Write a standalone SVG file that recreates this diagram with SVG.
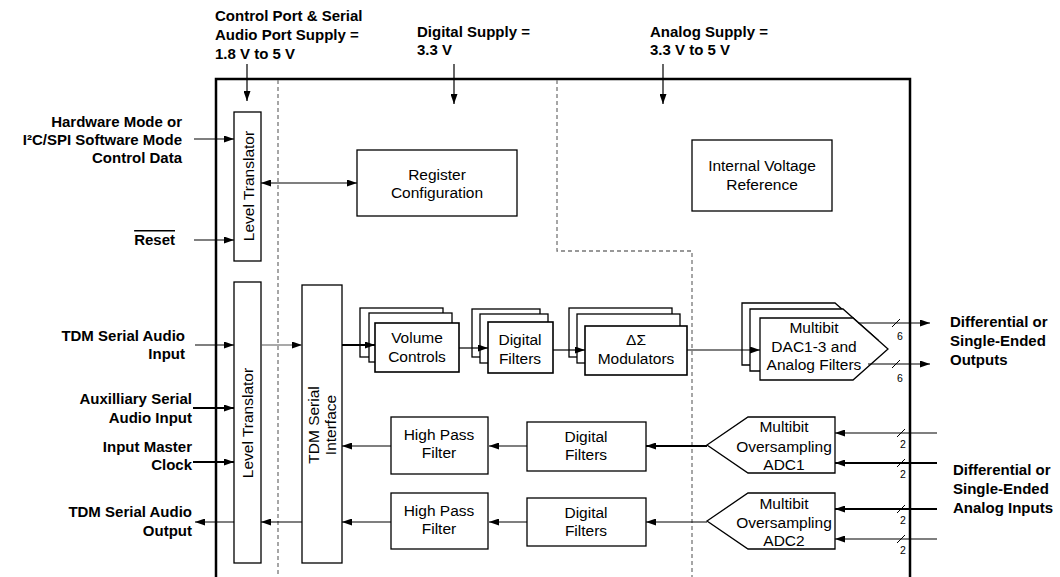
<svg xmlns="http://www.w3.org/2000/svg" width="1060" height="577" viewBox="0 0 1060 577">
<defs>
<marker id="ah" viewBox="0 0 10 7" refX="10" refY="3.5" markerUnits="userSpaceOnUse" markerWidth="10" markerHeight="7" orient="auto-start-reverse"><path d="M0,0 L10,3.5 L0,7 z" fill="#000"/></marker>
<path id="dac" d="M760,318 H853 L888,349 L853,380 H760 Z"/>
</defs>
<style>
text{font-family:"Liberation Sans",Arial,Helvetica,sans-serif;fill:#000}
.b{font-weight:bold;font-size:15px}
.n{font-size:15.5px}
.s{font-size:10.5px}
.m{text-anchor:middle}
.e{text-anchor:end}
.box{fill:#fff;stroke:#000;stroke-width:1.3}
.fr{fill:#fff;stroke:#000;stroke-width:1.6}
.c{fill:none;stroke:#000;stroke-width:1.2;marker-end:url(#ah)}
.t{stroke-width:2.2}
.g{stroke:#555}
.dash{fill:none;stroke:#777;stroke-width:1.3;stroke-dasharray:4 3}
.sl{stroke:#000;stroke-width:1}
</style>
<rect width="1060" height="577" fill="#fff"/>
<g id="frame">
<path d="M216,577 V79 H910 V577" fill="none" stroke="#000" stroke-width="2.5"/>
<path class="dash" d="M278,80 V577"/>
<path class="dash" d="M557,80 V251 H692 V577"/>
</g>
<g id="labels">
<text class="b" x="215" y="21">Control Port &amp; Serial</text>
<text class="b" x="215" y="40">Audio Port Supply =</text>
<text class="b" x="215" y="59">1.8 V to 5 V</text>
<text class="b" x="417" y="37">Digital Supply =</text>
<text class="b" x="417" y="55">3.3 V</text>
<text class="b" x="650" y="37">Analog Supply =</text>
<text class="b" x="650" y="55">3.3 V to 5 V</text>
<text class="b e" x="182" y="127">Hardware Mode or</text>
<text class="b e" x="182" y="145">I²C/SPI Software Mode</text>
<text class="b e" x="182" y="163">Control Data</text>
<text class="b e" x="175" y="245" style="text-decoration:overline">Reset</text>
<text class="b e" x="185" y="341">TDM Serial Audio</text>
<text class="b e" x="185" y="359">Input</text>
<text class="b e" x="192" y="404">Auxilliary Serial</text>
<text class="b e" x="192" y="423">Audio Input</text>
<text class="b e" x="192" y="452">Input Master</text>
<text class="b e" x="192" y="470">Clock</text>
<text class="b e" x="192" y="517">TDM Serial Audio</text>
<text class="b e" x="192" y="536">Output</text>
<text class="b" x="950" y="327">Differential or</text>
<text class="b" x="950" y="346">Single-Ended</text>
<text class="b" x="950" y="365">Outputs</text>
<text class="b" x="953" y="475">Differential or</text>
<text class="b" x="953" y="494">Single-Ended</text>
<text class="b" x="953" y="513">Analog Inputs</text>
</g>
<g id="lt-top">
<rect class="box" x="234" y="112" width="27" height="149"/>
<text class="n m" transform="translate(254,186) rotate(-90)">Level Translator</text>
</g>
<g id="lt-bottom">
<rect class="box" x="234" y="282" width="27" height="281"/>
<text class="n m" transform="translate(253,423) rotate(-90)">Level Translator</text>
</g>
<g id="tdm">
<rect class="box" x="302" y="285" width="40" height="278"/>
<text class="n m" transform="translate(319,425) rotate(-90)">TDM Serial</text>
<text class="n m" transform="translate(336,425) rotate(-90)">Interface</text>
</g>
<g id="register">
<rect class="box" x="357" y="150" width="160" height="66"/>
<text class="n m" x="437" y="180">Register</text>
<text class="n m" x="437" y="198">Configuration</text>
</g>
<g id="vref">
<rect class="box" x="692" y="140" width="140" height="71"/>
<text class="n m" x="762" y="171">Internal Voltage</text>
<text class="n m" x="762" y="190">Reference</text>
</g>
<g id="volume">
<rect class="box" x="360" y="308" width="83" height="49"/>
<rect class="box" x="369" y="313" width="83" height="49"/>
<rect class="fr" x="375" y="323" width="84" height="49"/>
<text class="n m" x="417" y="343">Volume</text>
<text class="n m" x="417" y="362">Controls</text>
</g>
<g id="dfilt-dac">
<rect class="box" x="472" y="309" width="68" height="48"/>
<rect class="box" x="480" y="314" width="68" height="49"/>
<rect class="fr" x="488" y="322" width="65" height="51"/>
<text class="n m" x="520" y="345">Digital</text>
<text class="n m" x="520" y="364">Filters</text>
</g>
<g id="modulators">
<rect class="box" x="569" y="308" width="103" height="49"/>
<rect class="box" x="577" y="314" width="103" height="49"/>
<rect class="fr" x="585" y="326" width="102" height="49"/>
<text class="n m" x="636" y="345">ΔΣ</text>
<text class="n m" x="636" y="364">Modulators</text>
</g>
<g id="dac-block">
<use href="#dac" class="box" transform="translate(-18,-15)"/>
<use href="#dac" class="box" transform="translate(-10,-9)"/>
<use href="#dac" class="box"/>
<text class="n m" x="814" y="333">Multibit</text>
<text class="n m" x="814" y="352">DAC1-3 and</text>
<text class="n m" x="814" y="370">Analog Filters</text>
</g>
<g id="adc1">
<path class="box" d="M707,445 L748,417 H835 V473 H748 Z"/>
<text class="n m" x="784" y="432">Multibit</text>
<text class="n m" x="784" y="452">Oversampling</text>
<text class="n m" x="784" y="470">ADC1</text>
</g>
<g id="adc2">
<path class="box" d="M707,521 L748,493 H835 V549 H748 Z"/>
<text class="n m" x="784" y="509">Multibit</text>
<text class="n m" x="784" y="528">Oversampling</text>
<text class="n m" x="784" y="546">ADC2</text>
</g>
<g id="dfilt-1">
<rect class="box" x="527" y="422" width="119" height="49"/>
<text class="n m" x="586" y="442">Digital</text>
<text class="n m" x="586" y="460">Filters</text>
</g>
<g id="dfilt-2">
<rect class="box" x="527" y="498" width="119" height="48"/>
<text class="n m" x="586" y="518">Digital</text>
<text class="n m" x="586" y="536">Filters</text>
</g>
<g id="hpf-1">
<rect class="box" x="391" y="417" width="97" height="57"/>
<text class="n m" x="439" y="440">High Pass</text>
<text class="n m" x="439" y="458">Filter</text>
</g>
<g id="hpf-2">
<rect class="box" x="391" y="493" width="97" height="56"/>
<text class="n m" x="439" y="516">High Pass</text>
<text class="n m" x="439" y="534">Filter</text>
</g>
<g id="connectors">
<path class="c" d="M247,64 V101"/>
<path class="c" d="M454,64 V104"/>
<path class="c" d="M663,64 V104"/>
<path class="c" d="M194,139 H234"/>
<path class="c" d="M194,240 H234"/>
<path class="c" d="M261,183 H357" marker-start="url(#ah)"/>
<path class="c" d="M195,345 H234"/>
<path class="c t" d="M193,408 H234"/>
<path class="c t" d="M193,462 H234"/>
<path class="c" d="M234,522 H195"/>
<path class="c g" d="M261,345 H302"/>
<path class="c" d="M302,522 H261"/>
<path class="c t" d="M342,345 H375"/>
<path class="c" d="M459,348 H488"/>
<path class="c" d="M553,350 H585"/>
<path class="c" d="M687,350 H760"/>
<path class="c" d="M858,323 H930"/>
<path class="c" d="M868,364 H930"/>
<path class="c" d="M937,433 H835"/>
<path class="c t" d="M937,463 H835"/>
<path class="c t" d="M937,509 H835"/>
<path class="c" d="M937,539 H835"/>
<path class="c t" d="M707,446 H646"/>
<path class="c" d="M527,446 H489"/>
<path class="c" d="M391,446 H342"/>
<path class="c" d="M707,522 H646"/>
<path class="c" d="M527,522 H489"/>
<path class="c" d="M391,522 H342"/>
<path class="sl" d="M892,327 L900,319 M892,368 L900,360 M897,437 L905,429 M897,467 L905,459 M897,513 L905,505 M897,543 L905,535"/>
<text class="s" x="897" y="340">6</text>
<text class="s" x="897" y="382">6</text>
<text class="s" x="900" y="448">2</text>
<text class="s" x="900" y="478">2</text>
<text class="s" x="900" y="524">2</text>
<text class="s" x="900" y="554">2</text>
</g>
</svg>
